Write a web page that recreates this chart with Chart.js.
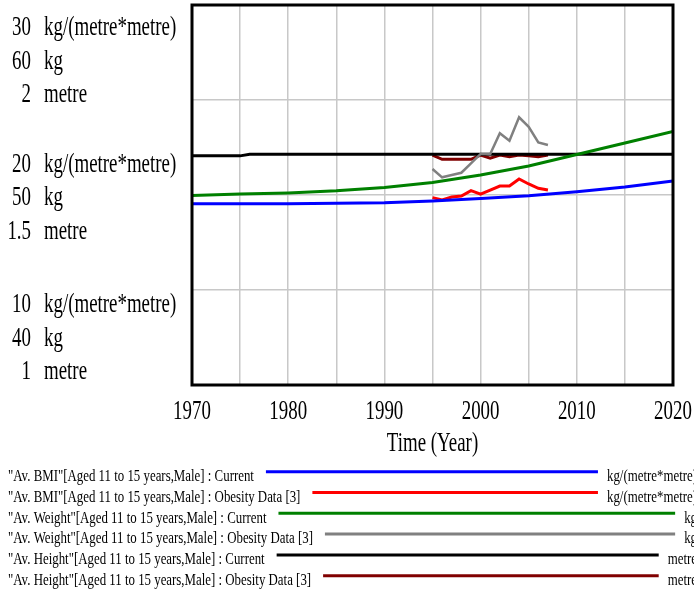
<!DOCTYPE html>
<html>
<head>
<meta charset="utf-8">
<script src="https://cdn.jsdelivr.net/npm/chart.js@4/dist/chart.umd.min.js"></script>
<style>
html,body{margin:0;padding:0;background:#fff;}
canvas{display:block;}
</style>
</head>
<body>
<canvas id="c" width="694" height="591"></canvas>
<script>
// ---- data ----
const currentYears   = [1970, 1975, 1980, 1985, 1990, 1995, 2000, 2005, 2010, 2015, 2020];
const bmiCurrent     = [19.54, 19.54, 19.54, 19.56, 19.59, 19.69, 19.82, 19.96, 20.17, 20.42, 20.74];
const weightCurrent  = [49.98, 50.05, 50.11, 50.22, 50.39, 50.66, 51.05, 51.53, 52.13, 52.74, 53.34];
const heightYears    = [1970, 1975, 1976, 2020];
const heightCurrent  = [1.603, 1.603, 1.607, 1.607];
const dataYears      = [1995, 1996, 1997, 1998, 1999, 2000, 2001, 2002, 2003, 2004, 2005, 2006, 2007];
const bmiData        = [19.86, 19.74, 19.89, 19.95, 20.23, 20.04, 20.26, 20.47, 20.47, 20.84, 20.58, 20.35, 20.26];
const weightData     = [51.37, 50.93, 51.05, 51.17, 51.66, 52.16, 52.16, 53.25, 52.86, 54.09, 53.59, 52.77, 52.63];
const heightData     = [1.605, 1.594, 1.594, 1.594, 1.594, 1.605, 1.597, 1.605, 1.601, 1.605, 1.603, 1.601, 1.605];

const seriesLabels = [
  '"Av. BMI"[Aged 11 to 15 years,Male] : Current',
  '"Av. BMI"[Aged 11 to 15 years,Male] : Obesity Data [3]',
  '"Av. Weight"[Aged 11 to 15 years,Male] : Current',
  '"Av. Weight"[Aged 11 to 15 years,Male] : Obesity Data [3]',
  '"Av. Height"[Aged 11 to 15 years,Male] : Current',
  '"Av. Height"[Aged 11 to 15 years,Male] : Obesity Data [3]'
];
const seriesUnits = ['kg/(metre*metre)', 'kg/(metre*metre)', 'kg', 'kg', 'metre', 'metre'];
const seriesColors = ['#0000ff', '#ff0000', '#008000', '#808080', '#000000', '#800000'];

const bmiTicks    = [30, 20, 10];
const weightTicks = [60, 50, 40];
const heightTicks = ['2', '1.5', '1'];
const axisUnits   = ['kg/(metre*metre)', 'kg', 'metre'];
const xLabelYears = [1970, 1980, 1990, 2000, 2010, 2020];
const xTitle = 'Time (Year)';

function pts(xs, ys) { return xs.map((x, i) => ({ x: x, y: ys[i] })); }

const FONT = '"Liberation Serif", "Times New Roman", serif';
function txt(ctx, s, x, y, size, align, sx) {
  ctx.save();
  ctx.font = size + 'px ' + FONT;
  ctx.textBaseline = 'alphabetic';
  ctx.textAlign = align;
  ctx.fillStyle = '#000';
  ctx.translate(x, y);
  ctx.scale(sx, 1);
  ctx.fillText(s, 0, 0);
  ctx.restore();
}
function tw(ctx, s, size, sx) {
  ctx.save();
  ctx.font = size + 'px ' + FONT;
  const w = ctx.measureText(s).width * sx;
  ctx.restore();
  return w;
}

const decor = {
  id: 'decor',
  afterDraw(chart) {
    const ctx = chart.ctx;
    const a = chart.chartArea;
    const yb = chart.scales.yBMI;
    const xs = chart.scales.x;
    // border
    ctx.save();
    ctx.strokeStyle = '#000';
    ctx.lineWidth = 3;
    ctx.strokeRect(a.left, a.top, a.right - a.left, a.bottom - a.top);
    ctx.restore();

    // left stacked labels
    const BIG = 27, SX = 0.7, LS = 33.5;
    const numX = 31, unitX = 44;
    const topY = yb.getPixelForValue(bmiTicks[0]);
    const midY = yb.getPixelForValue(bmiTicks[1]);
    const botY = yb.getPixelForValue(bmiTicks[2]);
    const starts = [topY + 30, midY - 23.5, botY - 6 - 2 * LS];
    for (let b = 0; b < 3; b++) {
      const nums = [String(bmiTicks[b]), String(weightTicks[b]), heightTicks[b]];
      for (let r = 0; r < 3; r++) {
        const y = starts[b] + r * LS;
        txt(ctx, nums[r], numX, y, BIG, 'right', SX);
        txt(ctx, axisUnits[r], unitX, y, BIG, 'left', SX);
      }
    }

    // x labels
    xLabelYears.forEach(yr => {
      txt(ctx, String(yr), xs.getPixelForValue(yr), a.bottom + 34, BIG, 'center', SX);
    });
    txt(ctx, xTitle, (a.left + a.right) / 2, a.bottom + 66, BIG, 'center', SX);

    // legend
    const LF = 16.5, LSX = 0.78;
    for (let i = 0; i < seriesLabels.length; i++) {
      const lineY = 471.7 + i * 20.8;
      const base = lineY + 9.3;
      txt(ctx, seriesLabels[i], 8, base, LF, 'left', LSX);
      const tEnd = 8 + tw(ctx, seriesLabels[i], LF, LSX);
      const uW = tw(ctx, seriesUnits[i], LF, LSX);
      const uX = 697 - uW;
      txt(ctx, seriesUnits[i], uX, base, LF, 'left', LSX);
      ctx.save();
      ctx.strokeStyle = seriesColors[i];
      ctx.lineWidth = 3;
      ctx.beginPath();
      ctx.moveTo(tEnd + 12, lineY);
      ctx.lineTo(uX - 9, lineY);
      ctx.stroke();
      ctx.restore();
    }
  }
};

function ds(label, data, axis, color, width) {
  return {
    label: label, data: data, yAxisID: axis,
    borderColor: color, backgroundColor: color,
    borderWidth: width, pointRadius: 0, tension: 0, fill: false
  };
}

new Chart(document.getElementById('c'), {
  type: 'line',
  data: {
    datasets: [
      ds(seriesLabels[0], pts(currentYears, bmiCurrent), 'yBMI', seriesColors[0], 3),
      ds(seriesLabels[1], pts(dataYears, bmiData), 'yBMI', seriesColors[1], 3),
      ds(seriesLabels[2], pts(currentYears, weightCurrent), 'yW', seriesColors[2], 3),
      ds(seriesLabels[3], pts(dataYears, weightData), 'yW', seriesColors[3], 2.5),
      ds(seriesLabels[4], pts(heightYears, heightCurrent), 'yH', seriesColors[4], 3),
      ds(seriesLabels[5], pts(dataYears, heightData), 'yH', seriesColors[5], 3)
    ]
  },
  options: {
    responsive: false,
    animation: false,
    parsing: true,
    layout: { padding: { top: 5, right: 21, bottom: 0, left: 0 } },
    plugins: { legend: { display: false }, tooltip: { enabled: false }, title: { display: false } },
    scales: {
      x: {
        type: 'linear', min: 1970, max: 2020,
        ticks: { stepSize: 5, display: false },
        grid: { color: '#c8c8c8', lineWidth: 1.5, drawTicks: false },
        border: { display: false },
        afterFit: s => { s.height = 206; }
      },
      yBMI: {
        type: 'linear', position: 'left', min: 10, max: 30,
        ticks: { stepSize: 5, display: false },
        grid: { color: '#c8c8c8', lineWidth: 1.5, drawTicks: false },
        border: { display: false },
        afterFit: s => { s.width = 192; }
      },
      yW: { type: 'linear', display: false, min: 40, max: 60 },
      yH: { type: 'linear', display: false, min: 1, max: 2 }
    }
  },
  plugins: [decor]
});
</script>
</body>
</html>
